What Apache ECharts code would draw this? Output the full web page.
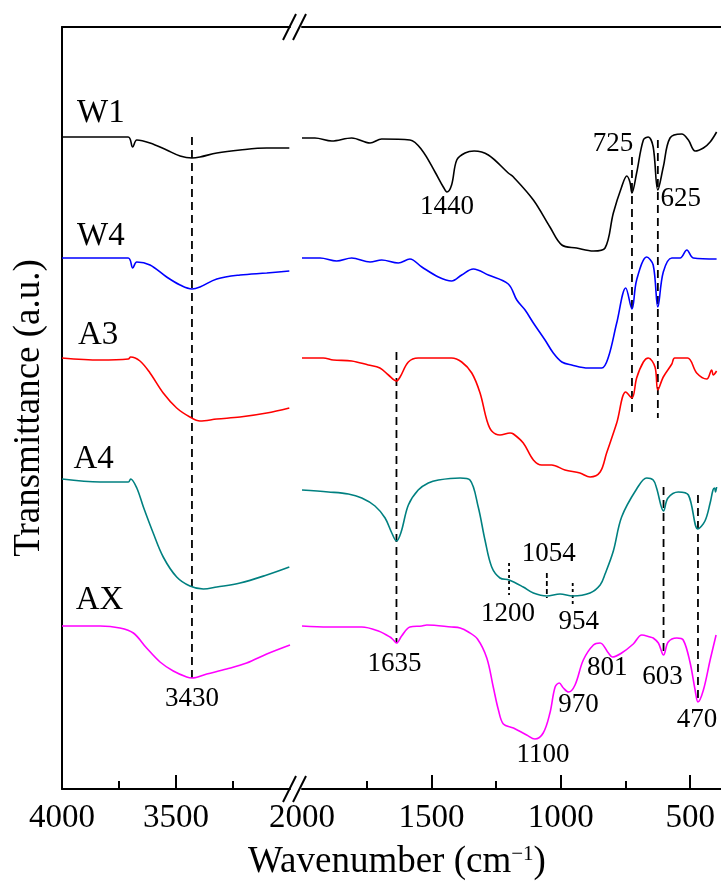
<!DOCTYPE html>
<html>
<head>
<meta charset="utf-8">
<script src="https://cdn.jsdelivr.net/npm/echarts@6.0.0/dist/echarts.min.js"></script>
<style>
  html, body { margin: 0; padding: 0; background: #fff; }
  #chart { width: 721px; height: 884px; }
</style>
</head>
<body>
<div id="chart"></div>
<script>
// FTIR spectra, [wavenumber (cm-1), transmittance (a.u., vertically offset)]
const W1 = [
  [4000, 65.2], [3710, 65.2], [3690, 64.2], [3672, 64.9], [3614, 64.6], [3541, 63.9], [3482, 63.3],
  [3430, 63.1], [3395, 63.2], [3321, 63.6], [3219, 63.9], [3102, 64.1], [3003, 64.1],
  [2000, 65.1], [1950, 65.1], [1885, 64.8], [1808, 65.1], [1737, 64.6], [1692, 65.0], [1583, 64.9],
  [1537, 63.9], [1486, 61.7], [1454, 60.2], [1440, 59.7], [1422, 60.4], [1402, 62.9], [1370, 63.6],
  [1335, 63.8], [1280, 63.4], [1203, 61.6], [1183, 61.2], [1106, 58.9], [1042, 56.2], [996, 54.4],
  [939, 54.1], [874, 53.8], [829, 54.1], [797, 57.6], [765, 60.2], [745, 61.3], [733, 60.7],
  [725, 59.6], [707, 61.6], [681, 64.9], [662, 65.2], [643, 64.2], [625, 59.9], [604, 62.2],
  [578, 65.1], [533, 65.5], [507, 64.9], [481, 63.8], [449, 64.1], [423, 64.7], [398, 65.7]
];
const W4 = [
  [4000, 53.1], [3710, 53.1], [3690, 52.1], [3672, 52.7], [3614, 52.4], [3541, 51.2], [3482, 50.4],
  [3430, 50.0], [3395, 50.2], [3321, 51.0], [3219, 51.4], [3102, 51.6], [3003, 51.8],
  [2000, 53.1], [1930, 53.1], [1866, 52.8], [1808, 53.1], [1737, 52.7], [1692, 52.9], [1628, 52.6],
  [1583, 53.0], [1537, 52.2], [1473, 51.2], [1422, 50.8], [1383, 51.4], [1338, 52.0], [1280, 51.4],
  [1203, 50.5], [1170, 48.9], [1138, 47.9], [1106, 46.6], [1061, 44.9], [1029, 43.6], [996, 42.7],
  [958, 42.4], [894, 42.1], [842, 42.1], [816, 43.2], [784, 46.6], [749, 50.1], [725, 48.0],
  [707, 50.9], [668, 53.2], [643, 52.4], [625, 48.2], [604, 51.7], [571, 53.1], [539, 53.1],
  [513, 53.9], [488, 53.1], [398, 53.0]
];
const A3 = [
  [4000, 43.1], [3833, 42.9], [3709, 43.0], [3699, 43.2], [3658, 42.8], [3614, 41.6], [3556, 39.6],
  [3497, 38.1], [3439, 37.2], [3395, 36.8], [3321, 37.0], [3219, 37.2], [3102, 37.6], [3003, 38.1],
  [2000, 43.1], [1918, 43.1], [1879, 42.9], [1808, 42.8], [1744, 42.4], [1699, 42.1], [1666, 41.4],
  [1635, 40.8], [1621, 41.2], [1589, 42.7], [1551, 43.1], [1422, 43.1], [1383, 42.7], [1344, 41.6],
  [1312, 39.6], [1286, 36.9], [1267, 35.8], [1235, 35.4], [1196, 35.6], [1183, 35.5], [1145, 34.6],
  [1106, 32.9], [1074, 32.4], [1035, 32.4], [984, 31.9], [926, 31.6], [887, 31.2], [848, 31.7],
  [823, 33.6], [784, 36.6], [749, 39.7], [725, 39.1], [707, 41.1], [681, 42.7], [662, 43.1],
  [636, 42.2], [625, 39.9], [604, 41.2], [571, 42.5], [560, 43.1], [510, 43.1], [475, 41.6],
  [436, 41.0], [417, 41.9], [411, 41.4], [398, 41.8]
];
const A4 = [
  [4000, 31.0], [3833, 30.7], [3709, 30.7], [3699, 31.0], [3672, 30.1], [3643, 28.2], [3600, 25.6],
  [3556, 23.2], [3497, 21.2], [3439, 20.3], [3380, 20.0], [3321, 20.2], [3219, 20.6], [3102, 21.4],
  [3003, 22.2],
  [2000, 29.9], [1898, 29.7], [1821, 29.5], [1769, 29.1], [1718, 28.3], [1679, 27.1], [1653, 25.6],
  [1635, 24.8], [1617, 25.7], [1589, 28.4], [1551, 29.9], [1512, 30.6], [1473, 30.9], [1389, 31.1],
  [1351, 30.9], [1319, 28.2], [1293, 24.9], [1267, 22.2], [1235, 21.1], [1200, 20.9], [1145, 20.2],
  [1106, 19.6], [1054, 19.3], [1003, 19.5], [954, 19.3], [887, 19.6], [848, 20.4], [829, 21.5],
  [797, 23.8], [765, 27.2], [707, 30.0], [668, 31.1], [643, 30.9], [630, 30.1], [603, 27.8],
  [586, 29.1], [546, 29.7], [507, 29.4], [470, 26.0], [443, 26.8], [423, 28.6], [412, 29.9],
  [406, 30.1], [402, 29.7], [398, 30.2]
];
const AX = [
  [4000, 16.3], [3833, 16.3], [3746, 16.1], [3687, 15.6], [3629, 14.1], [3570, 12.7], [3512, 11.8],
  [3453, 11.2], [3430, 11.1], [3365, 11.5], [3278, 12.0], [3190, 12.6], [3102, 13.5], [3000, 14.4],
  [2000, 16.3], [1898, 16.2], [1769, 16.2], [1705, 15.8], [1660, 15.2], [1647, 14.9], [1635, 14.6],
  [1615, 15.3], [1583, 16.2], [1537, 16.3], [1518, 16.4], [1422, 16.2], [1389, 16.1], [1357, 15.7],
  [1322, 15.0], [1286, 13.1], [1261, 10.2], [1241, 7.9], [1222, 6.5], [1183, 6.1], [1132, 5.4],
  [1100, 5.0], [1068, 5.6], [1042, 7.6], [1022, 10.2], [1006, 10.6], [990, 10.1], [970, 9.7],
  [945, 10.4], [913, 12.9], [874, 14.4], [848, 14.6], [816, 13.6], [801, 13.2], [765, 13.6],
  [720, 14.5], [687, 15.4], [655, 15.2], [643, 15.1], [623, 14.6], [603, 13.4], [585, 14.7],
  [552, 15.1], [527, 14.9], [501, 12.7], [481, 9.9], [470, 8.7], [449, 9.9], [423, 12.9], [400, 15.4]
];

const sampleNames = ['W1', 'W4', 'A3', 'A4', 'AX'];
const sampleData = [W1, W4, A3, A4, AX];

// Axis ticks (wavenumber)
const leftTickLabels = [4000, 3500];
const leftMajorTicks = [3500];
const leftMinorTicks = [3750, 3250];
const rightTickLabels = [2000, 1500, 1000, 500];
const rightMajorTicks = [1500, 1000, 500];
const rightMinorTicks = [1750, 1250, 750];

// Band assignments
const peakText = ['3430', '1635', '1440', '1200', '1100', '1054', '970', '954', '801', '725', '625', '603', '470'];
const peakWavenumber = [3430, 1635, 1440, 1200, 1100, 1054, 970, 954, 801, 725, 625, 603, 470];

// Vertical guides through the bands: wavenumber, upper and lower end (a.u.)
const guideWavenumber = [3430, 1635, 725, 625, 603, 470, 1200, 1054, 954];
const guideTop = [65.2, 43.7, 63.2, 64.9, 30.2, 29.4, 22.6, 21.6, 20.6];
const guideBottom = [10.9, 14.6, 37.2, 37.1, 13.4, 8.7, 19.4, 19.1, 18.2];

// ---- layout & style ----
const SERIF = "'Liberation Serif','Times New Roman',serif";
const sampleColors = ['#000000', '#0000ff', '#ff0000', '#008080', '#ff00ff'];
const sampleLabelAt = [[3934, 67.6], [3934, 55.3], [3930, 45.4], [3950, 33.0], [3940, 18.9]];
// label anchor height (a.u.) and horizontal nudge (px) for each band label
const peakLabelY = [9.0, 12.5, 58.2, 17.5, 3.4, 23.5, 8.4, 16.7, 12.1, 64.5, 59.0, 11.2, 6.9];
const peakLabelDx = [0, -2, 0, -1, 8, 2, 10, 6, -5, -19, 23, -1, -1];
const guideDash = [[8, 5], [8, 5], [8, 5], [8, 5], [8, 5], [8, 5], [3, 3], [5, 3], [3, 3]];

const Y_MAX = 76.2;
const PLOT_TOP = 27, PLOT_H = 762;
const LEFT_X0 = 62, LEFT_W = 228, RIGHT_X0 = 302;
const LEFT_MIN = 3000, LEFT_MAX = 4000, RIGHT_MIN = 381, RIGHT_MAX = 2000;
const AXIS_W = 2;

const isLeft = wn => wn > 2500;

function tickAxis(grid, min, max, position, opts) {
  return Object.assign({
    gridIndex: grid, type: 'value', inverse: true, min: min, max: max, position: position,
    splitLine: { show: false },
    axisLine: { show: false },
    axisTick: { show: false },
    axisLabel: { show: false }
  }, opts);
}

const tickLabelStyle = {
  fontSize: 33, fontFamily: SERIF, color: '#000', margin: 13,
  formatter: v => String(v)
};
const lineAxis = { show: true, onZero: false, lineStyle: { color: '#000', width: AXIS_W } };

const xAxis = [
  // left segment: 4000-3000
  tickAxis(0, LEFT_MIN, LEFT_MAX, 'bottom', {
    axisLine: lineAxis,
    axisTick: { show: true, inside: true, length: 14, customValues: leftMajorTicks, lineStyle: { color: '#000', width: AXIS_W } },
    axisLabel: Object.assign({ show: true, customValues: leftTickLabels }, tickLabelStyle)
  }),
  tickAxis(0, LEFT_MIN, LEFT_MAX, 'bottom', {
    axisTick: { show: true, inside: true, length: 8, customValues: leftMinorTicks, lineStyle: { color: '#000', width: AXIS_W } }
  }),
  tickAxis(0, LEFT_MIN, LEFT_MAX, 'top', { axisLine: lineAxis }),
  // right segment: 2000-400
  tickAxis(1, RIGHT_MIN, RIGHT_MAX, 'bottom', {
    axisLine: lineAxis,
    axisTick: { show: true, inside: true, length: 14, customValues: rightMajorTicks, lineStyle: { color: '#000', width: AXIS_W } },
    axisLabel: Object.assign({ show: true, customValues: rightTickLabels }, tickLabelStyle)
  }),
  tickAxis(1, RIGHT_MIN, RIGHT_MAX, 'bottom', {
    axisTick: { show: true, inside: true, length: 8, customValues: rightMinorTicks, lineStyle: { color: '#000', width: AXIS_W } }
  }),
  tickAxis(1, RIGHT_MIN, RIGHT_MAX, 'top', { axisLine: lineAxis })
];

const yAxis = [
  {
    gridIndex: 0, type: 'value', min: 0, max: Y_MAX,
    axisLine: lineAxis, axisTick: { show: false }, axisLabel: { show: false }, splitLine: { show: false },
    name: 'Transmittance (a.u.)', nameLocation: 'middle', nameGap: 14,
    nameTextStyle: { fontSize: 37, fontFamily: SERIF, color: '#000' }
  },
  { gridIndex: 1, type: 'value', min: 0, max: Y_MAX, show: false }
];

const series = [];

// spectra, split across the axis break
sampleData.forEach((data, i) => {
  [[data.filter(p => isLeft(p[0])), 0, 0], [data.filter(p => !isLeft(p[0])), 3, 1]].forEach(([part, xi, yi]) => {
    series.push({
      type: 'line', name: sampleNames[i], xAxisIndex: xi, yAxisIndex: yi, data: part,
      showSymbol: false, smooth: 0.35, silent: true,
      lineStyle: { color: sampleColors[i], width: 1.6 }, z: 3
    });
  });
});

// dashed guides
guideWavenumber.forEach((wn, i) => {
  series.push({
    type: 'line', xAxisIndex: isLeft(wn) ? 0 : 3, yAxisIndex: isLeft(wn) ? 0 : 1,
    data: [[wn, guideTop[i]], [wn, guideBottom[i]]],
    showSymbol: false, silent: true, z: 2,
    lineStyle: { color: '#000', width: 1.8, type: guideDash[i] }
  });
});

// band labels
function textSeries(items, xi, yi, fontSize, align) {
  return {
    type: 'scatter', xAxisIndex: xi, yAxisIndex: yi, symbolSize: 1, silent: true, z: 4,
    itemStyle: { color: 'rgba(0,0,0,0)' },
    data: items,
    label: {
      show: true, position: 'inside', color: '#000', opacity: 1, fontSize: fontSize, fontFamily: SERIF,
      align: align, textBorderWidth: 0
    }
  };
}
const peakItems = peakText.map((t, i) => ({
  value: [peakWavenumber[i], peakLabelY[i]],
  label: { formatter: t, offset: [peakLabelDx[i], 0] }
}));
series.push(textSeries(peakItems.filter(d => isLeft(d.value[0])), 0, 0, 27, 'center'));
series.push(textSeries(peakItems.filter(d => !isLeft(d.value[0])), 3, 1, 27, 'center'));

// sample names
series.push(textSeries(sampleNames.map((n, i) => ({
  value: sampleLabelAt[i], label: { formatter: n }
})), 0, 0, 33, 'left'));

// axis break marks "//" on the top and bottom frame lines
const breakX = [283, 293];
const breakMarks = [];
[PLOT_TOP, PLOT_TOP + PLOT_H].forEach(y => {
  breakX.forEach(x => {
    breakMarks.push({
      type: 'line', silent: true, z: 10,
      shape: { x1: x, y1: y + 13, x2: x + 13, y2: y - 13 },
      style: { stroke: '#000', lineWidth: 2 }
    });
  });
});

const option = {
  animation: false,
  backgroundColor: '#fff',
  grid: [
    { left: LEFT_X0, top: PLOT_TOP, width: LEFT_W, height: PLOT_H },
    { left: RIGHT_X0, top: PLOT_TOP, right: 0, height: PLOT_H }
  ],
  xAxis: xAxis,
  yAxis: yAxis,
  series: series,
  graphic: breakMarks.concat([{
    type: 'text', silent: true, z: 10,
    style: {
      x: 397, y: 862, align: 'center', verticalAlign: 'middle',
      text: 'Wavenumber (cm{sup|−1})',
      font: '37px ' + SERIF, fill: '#000',
      rich: { sup: { fontSize: 21, fontFamily: SERIF, verticalAlign: 'top', fill: '#000' } }
    }
  }])
};

const chart = echarts.init(document.getElementById('chart'), null, { renderer: 'canvas' });
chart.setOption(option);
</script>
</body>
</html>
